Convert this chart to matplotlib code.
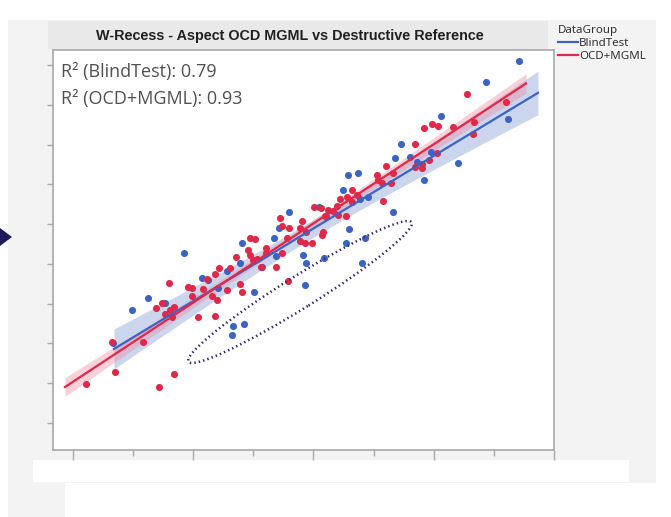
import numpy as np
import matplotlib
matplotlib.use("Agg")
import matplotlib.pyplot as plt
from matplotlib.patches import Ellipse, Rectangle, Polygon
from matplotlib.lines import Line2D

# values (axis labels are cut off, units are arbitrary)
blind_x = [466, 433, 388, 455, 348, 342, 357, 378, 364, 405, 371, 295, 305, 290,
           315, 307, 266, 273, 340, 236, 296, 293, 312, 309, 226, 221, 189, 250,
           253, 271, 223, 209, 187, 174, 149, 155, 165, 201, 252, 180, 191, 179,
           131, 95, 79, 112, 60]
blind_y = [389, 368, 334, 331, 306, 292, 293, 298, 288, 287, 270, 275, 277, 260,
           253, 251, 243, 234, 238, 238, 221, 207, 212, 187, 222, 212, 207, 195,
           187, 192, 194, 183, 187, 179, 172, 170, 162, 158, 165, 124, 126, 115,
           197, 152, 140, 147, 107]

ocd_x = [414, 453, 371, 379, 385, 400, 421, 420, 362, 384, 376, 369, 362, 369,
         333, 340, 324, 325, 329, 338, 299, 294, 287, 304, 299, 330, 261, 268,
         275, 280, 284, 293, 285, 272, 249, 247, 253, 270, 269, 252, 259, 227,
         229, 236, 247, 234, 197, 202, 195, 197, 213, 213, 229, 200, 204, 183,
         208, 223, 235, 177, 166, 162, 154, 135, 139, 150, 174, 187, 189, 139,
         159, 164, 145, 162, 116, 109, 121, 117, 103, 112, 119, 59, 90, 62, 121,
         33, 106]
ocd_y = [356, 348, 322, 326, 324, 323, 328, 316, 306, 297, 290, 286, 283, 282,
         284, 277, 275, 270, 267, 267, 260, 253, 251, 255, 248, 249, 243, 242,
         240, 239, 244, 234, 235, 234, 229, 222, 218, 218, 215, 207, 207, 232,
         224, 222, 209, 212, 212, 211, 200, 195, 202, 197, 197, 190, 191, 193,
         183, 183, 169, 182, 182, 176, 171, 163, 162, 161, 160, 166, 158, 154,
         154, 150, 133, 134, 167, 147, 143, 140, 142, 136, 133, 108, 108, 78, 76,
         66, 63]

# x span over which each fit line is drawn
blind_fit_span = [61, 485]
ocd_fit_span = [12, 473]

r2_labels = ["R² (BlindTest): 0.79", "R² (OCD+MGML): 0.93"]
groups = ["BlindTest", "OCD+MGML"]
title = "W-Recess - Aspect OCD MGML vs Destructive Reference"

BLUE = "#3c63c4"
RED = "#e02848"

W, H = 671, 517
fig = plt.figure(figsize=(W / 100, H / 100), dpi=100)
fig.patch.set_facecolor("white")


def px_rect(x0, y0, x1, y1, color):
    # rectangle given in image pixels (y down)
    fig.patches.append(Rectangle((x0 / W, 1 - y1 / H), (x1 - x0) / W, (y1 - y0) / H,
                                 transform=fig.transFigure, facecolor=color,
                                 edgecolor="none", zorder=-5))


# screenshot background panels
px_rect(8, 20, 656, 517, "#f3f3f3")
px_rect(33, 460, 629, 482, "white")
px_rect(65, 483, 660, 517, "white")
px_rect(48, 21, 548, 49, "#e9e9e9")
fig.patches.append(Polygon([(0, 1 - 228 / H), (12 / W, 1 - 237 / H), (0, 1 - 246 / H)],
                           closed=True, transform=fig.transFigure,
                           facecolor="#1c1c5c", edgecolor="none", zorder=-4))

ax = fig.add_axes([53 / W, 1 - 450 / H, 501 / W, 400 / H])
ax.set_zorder(2)
ax.set_facecolor("white")
ax.set_xlim(0, 500)
ax.set_ylim(0, 400)


def fit_band(xs, ys, span, color, band_color, band_alpha):
    xs = np.asarray(xs, float)
    ys = np.asarray(ys, float)
    n = len(xs)
    b, a = np.polyfit(xs, ys, 1)
    resid = ys - (a + b * xs)
    s = np.sqrt(np.sum(resid ** 2) / (n - 2))
    sxx = np.sum((xs - xs.mean()) ** 2)
    gx = np.linspace(span[0], span[1], 100)
    gy = a + b * gx
    half = 1.99 * s * np.sqrt(1 / n + (gx - xs.mean()) ** 2 / sxx)
    ax.fill_between(gx, gy - half, gy + half, color=band_color, alpha=band_alpha,
                    linewidth=0, zorder=1)
    ax.plot(gx, gy, color=color, lw=1.6, zorder=4)


fit_band(blind_x, blind_y, blind_fit_span, BLUE, "#8ea3db", 0.45)
fit_band(ocd_x, ocd_y, ocd_fit_span, RED, "#f08aa0", 0.4)

ax.scatter(blind_x, blind_y, s=26, color=BLUE, linewidths=0, zorder=3)
ax.scatter(ocd_x, ocd_y, s=26, color=RED, linewidths=0, zorder=3)

# dotted ellipse around the low blind-test points
ax.add_patch(Ellipse((247, 158), 263, 32, angle=32, fill=False,
                     edgecolor="#3a2a6a", lw=1.8, linestyle=(0, (0.6, 1.2)),
                     zorder=5))

ax.set_xticks(np.linspace(20, 501, 5))
ax.set_xticks(np.linspace(80, 441, 4), minor=True)
ax.set_yticks(np.linspace(27, 385, 10))
ax.set_xticklabels([])
ax.set_yticklabels([])
ax.tick_params(axis="x", which="major", length=7, color="#a8a8a8", width=1)
ax.tick_params(axis="x", which="minor", length=4, color="#a8a8a8", width=1)
ax.tick_params(axis="y", length=4, color="#a8a8a8", width=1)
for sp in ax.spines.values():
    sp.set_color("#a8a8a8")
    sp.set_linewidth(1.2)

for i, lab in enumerate(r2_labels):
    ax.text(0.015, 0.945 - i * 0.068, lab, transform=ax.transAxes,
            fontsize=13, color="#505050", family="Open Sans",
            ha="left", va="center")

fig.text(290 / W, 1 - 36 / H, title, ha="center", va="center",
         fontsize=10.4, fontweight="bold", family="Liberation Sans", color="#202020")

handles = [Line2D([], [], color=BLUE, lw=1.6), Line2D([], [], color=RED, lw=1.6)]
leg = fig.legend(handles, groups, title="DataGroup", loc="upper left",
                 bbox_to_anchor=(558 / W, 1 - 25 / H), frameon=False,
                 prop={"family": "Noto Sans", "size": 8.3},
                 title_fontproperties={"family": "Noto Sans", "size": 8.3},
                 alignment="left", handlelength=1.7, handletextpad=0.15,
                 labelspacing=0.15, borderaxespad=0, borderpad=0)
for t in leg.get_texts():
    t.set_color("#303030")
leg.get_title().set_color("#303030")

fig.savefig("out.png", dpi=100, facecolor=fig.get_facecolor())
